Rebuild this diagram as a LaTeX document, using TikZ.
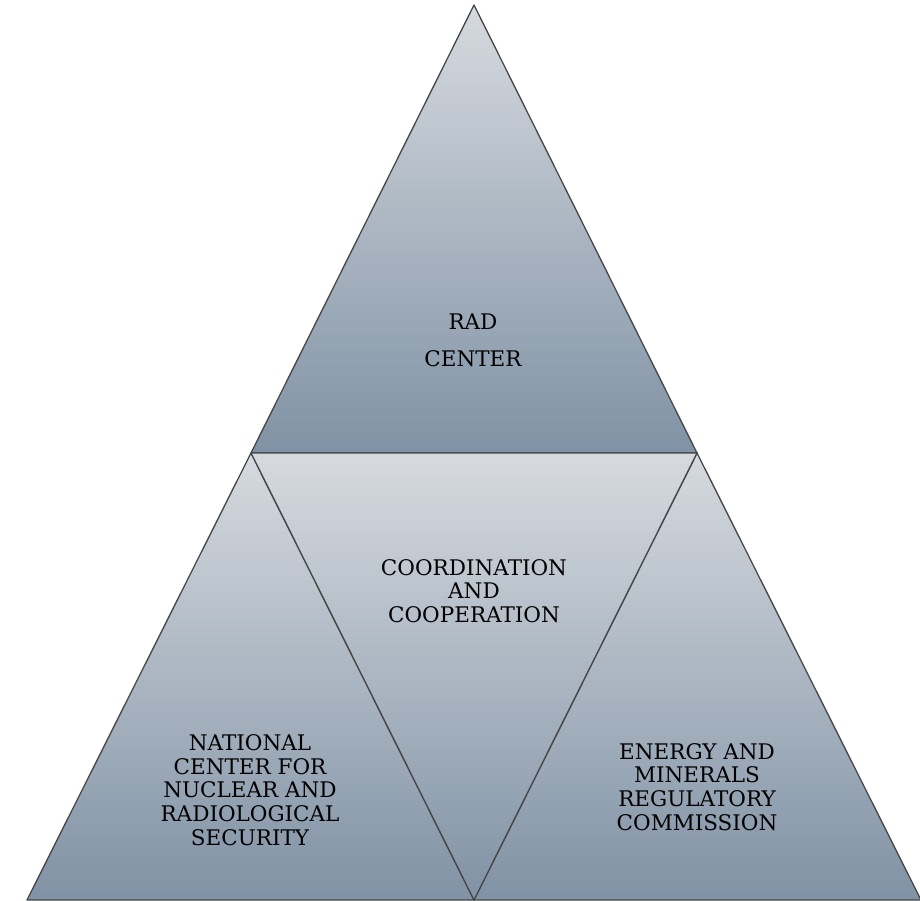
\documentclass[tikz,border=0pt]{standalone}
\usepackage{fontspec}
\setmainfont{DejaVu Serif}
\usetikzlibrary{positioning,calc}
\definecolor{paleblue}{RGB}{214,218,223}
\definecolor{slateblue}{RGB}{128,146,165}
\definecolor{edgegray}{RGB}{70,70,70}
\tikzset{
tri/.style = {top color=paleblue, bottom color=slateblue, draw=edgegray, line width=1.3pt, line join=round},
txt/.style = {align=center, inner sep=0pt, font=\fontsize{21.5}{23.7}\selectfont}
}
\begin{document}
\begin{tikzpicture}[x=1pt,y=-1pt]
    \useasboundingbox (0,0) rectangle (920,900);
    \coordinate (apex) at (474,5);
    \coordinate (midleft) at (251,453);
    \coordinate (midright) at (697,453);
    \coordinate (baseleft) at (27,900);
    \coordinate (basemid) at (474,900);
    \coordinate (baseright) at (921,900);

    % four triangles
    \path [tri] (apex) -- (midright) -- (midleft) -- cycle;
    \path [tri] (midleft) -- (basemid) -- (baseleft) -- cycle;
    \path [tri] (midright) -- (baseright) -- (basemid) -- cycle;
    \path [tri] (midleft) -- (midright) -- (basemid) -- cycle;

    \node [txt, name=rad] at (473,340) {RAD\\[13pt]CENTER};
    \node [txt, name=coord] at (474,591) {COORDINATION\\AND\\COOPERATION};
    \node [txt, name=nuclear] at (250,790) {NATIONAL\\CENTER FOR\\NUCLEAR AND\\RADIOLOGICAL\\SECURITY};
    \node [txt, name=energy] at (697,787) {ENERGY AND\\MINERALS\\REGULATORY\\COMMISSION};
\end{tikzpicture}
\end{document}
